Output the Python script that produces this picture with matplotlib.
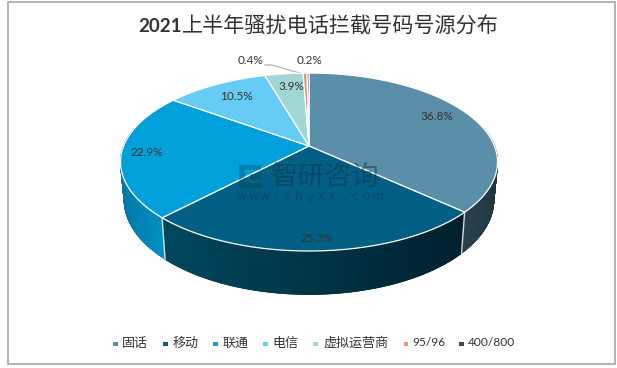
import numpy as np
import matplotlib
matplotlib.use("Agg")
import matplotlib.pyplot as plt
from matplotlib.colors import LinearSegmentedColormap
from matplotlib.patches import Rectangle

CJK = ['Noto Sans CJK SC', 'DejaVu Sans']
NUM = ['Lato', 'DejaVu Sans']

title_num = "2021"
title_cjk = "上半年骚扰电话拦截号码号源分布"
categories = ["固话", "移动", "联通", "电信", "虚拟运营商", "95/96", "400/800"]
values = [36.8, 25.3, 22.9, 10.5, 3.9, 0.4, 0.2]
top_colors = ["#5b8ea8", "#005f83", "#00a1db", "#66ccf5", "#a0d6d6", "#ef8e78", "#34515f"]
wall_left = ["#2a434f", "#00485f", "#0078a6", "#3f9cc4", "#6fa8a8", "#b06a58", "#243b47"]
wall_right = ["#22363f", "#00202e", "#0092c6", "#3f9cc4", "#6fa8a8", "#b06a58", "#243b47"]
label_pos = [(437, 116), (317, 238), (147, 153), (236, 96), (291, 87), (251, 60), (309.5, 60)]
legend_marker_x = [115, 165, 215, 265, 315, 405.5, 461]
legend_text_x = [122, 172.5, 222.5, 272, 323, 412.5, 468]

W, H = 617, 368
fig = plt.figure(figsize=(W / 100, H / 100), dpi=100)
ax = fig.add_axes([0, 0, 1, 1])
ax.axis("off")

ax.add_patch(Rectangle((7.5, 2), 607.5, 362, fc="white", ec="#a6a6a6", lw=1.2, zorder=0))

CX, CY = 309.0, 146.0
A, B, K = 185.4, 86.1, 0.18
XS, YS, D = 0.98, 1.06, 37.0


def rim(theta, lower=False):
    X, Y = np.sin(theta), np.cos(theta)
    d = 1 + K * Y
    u, v = A * X / d, B * Y / d
    if lower:
        return CX + XS * u, CY - YS * v + D
    return CX + u, CY - v


edges = np.cumsum([0] + values) / sum(values) * 2 * np.pi
FRONT_START, FRONT_END = np.deg2rad(78), np.deg2rad(282)

# side wall: smooth left-to-right shading on each front-facing slice
for i in range(len(values)):
    a0, a1 = max(edges[i], FRONT_START), min(edges[i + 1], FRONT_END)
    if a1 <= a0:
        continue
    th = np.linspace(a0, a1, 120)
    xa, ya = rim(th)
    xb, yb = rim(th, True)
    X = np.vstack([xa, xb])
    Y = np.vstack([ya, yb])
    C = (X - X.min()) / (X.max() - X.min())
    cmap = LinearSegmentedColormap.from_list(f"w{i}", [wall_left[i], wall_right[i]])
    ax.pcolormesh(X, Y, C, shading="gouraud", cmap=cmap, vmin=0, vmax=1, zorder=2)
    # soften the lower outline with the wall colours
    for j in range(0, len(th) - 1):
        ax.plot(xb[j:j + 2], yb[j:j + 2], color=cmap(C[1, j]), lw=0.7, zorder=2.1, solid_capstyle="round")
    for j in (0, -1):
        ax.plot(X[:, j], Y[:, j], color=cmap(C[0, j]), lw=0.7, zorder=2.1)

for i in range(len(values)):
    if FRONT_START < edges[i] < FRONT_END:
        xa, ya = rim(edges[i])
        xb, yb = rim(edges[i], True)
        ax.plot([xa, xb], [ya, yb], color="#d5dde0", lw=1.0, zorder=3)

# top face
for i in range(len(values)):
    th = np.linspace(edges[i], edges[i + 1], max(4, int(values[i] * 8)))
    xs, ys = rim(th)
    ax.fill(np.r_[CX, xs], np.r_[CY, ys], fc=top_colors[i], ec="white", lw=0.9, zorder=4, joinstyle="round")

# watermark
wm = "#12344a"
ax.text(325, 177, "智研咨询", family=CJK, fontsize=19.5, color=wm, alpha=0.5, ha="center", va="center", zorder=5)
for n, ch in enumerate("www.chyxx.com"):
    ax.text(242 + n * 11.3, 197, ch, family=CJK, fontsize=9, color=wm, alpha=0.5, ha="center", va="center", zorder=5)
for x0, y0, w, h in [(239, 165, 22, 5), (239, 170, 6, 18), (245, 183, 17, 5), (250, 174, 11, 5)]:
    ax.add_patch(Rectangle((x0, y0), w, h, fc=wm, ec="none", alpha=0.3, zorder=5))

# data labels
for v, (x, y) in zip(values, label_pos):
    ax.text(x, y, f"{v}%", family=NUM, fontsize=8.5, color="#333333", ha="center", va="center", zorder=6)
ax.plot([265, 272, 303], [65, 65, 74], color="#b5b5b5", lw=0.9, zorder=3)

# title
ax.text(181.5, 27, title_num, family=NUM, fontsize=13.5, fontweight="bold", color="#333333", ha="right", va="center")
ax.text(182, 27, title_cjk, family=CJK, fontsize=15.2, color="#333333", ha="left", va="center")

# legend
for c, mx, tx, name in zip(top_colors, legend_marker_x, legend_text_x, categories):
    ax.add_patch(Rectangle((mx - 2, 341.5), 4.5, 4.5, fc=c, ec="none"))
    is_num = name[0].isdigit()
    ax.text(tx, 343, name, family=NUM if is_num else CJK, fontsize=8.6 if is_num else 9.4,
            color="#333333", ha="left", va="center")

ax.set_xlim(0, W)
ax.set_ylim(H, 0)
ax.set_aspect("auto")
fig.savefig("out.png", dpi=100)
